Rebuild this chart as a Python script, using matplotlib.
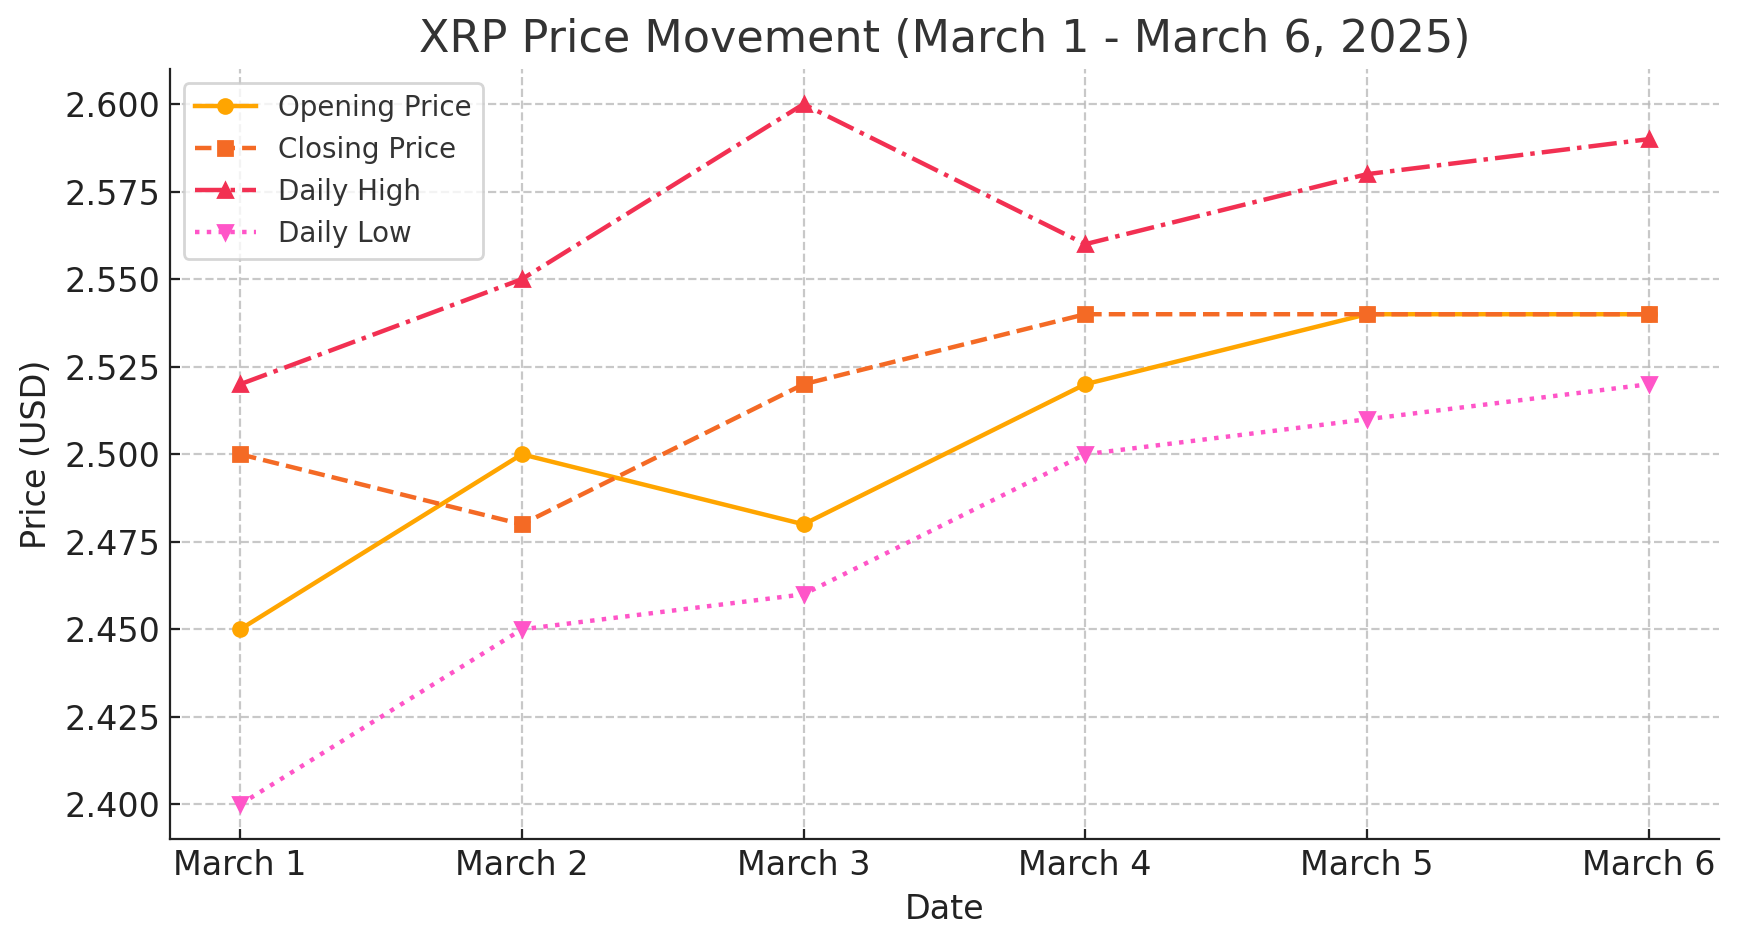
import matplotlib.pyplot as plt

dates = ['March 1', 'March 2', 'March 3', 'March 4', 'March 5', 'March 6']
opening = [2.45, 2.50, 2.48, 2.52, 2.54, 2.54]
closing = [2.50, 2.48, 2.52, 2.54, 2.54, 2.54]
high = [2.52, 2.55, 2.60, 2.56, 2.58, 2.59]
low = [2.40, 2.45, 2.46, 2.50, 2.51, 2.52]

text_col = '#222222'
plt.rcParams['text.color'] = text_col
plt.rcParams['axes.labelcolor'] = text_col
plt.rcParams['xtick.color'] = text_col
plt.rcParams['ytick.color'] = text_col
plt.rcParams['axes.edgecolor'] = text_col

fig, ax = plt.subplots(figsize=(17.39 / 2, 9.47 / 2), dpi=200)

ax.plot(dates, opening, marker='o', linestyle='-', color='#FFA500', linewidth=1.6, markersize=5, label='Opening Price')
ax.plot(dates, closing, marker='s', linestyle='--', color='#F46A25', linewidth=1.6, markersize=5, label='Closing Price')
ax.plot(dates, high, marker='^', linestyle='-.', color='#F23052', linewidth=1.6, markersize=5, label='Daily High')
ax.plot(dates, low, marker='v', linestyle=':', color='#FF55C8', linewidth=1.6, markersize=5, label='Daily Low')

ax.set_title('XRP Price Movement (March 1 - March 6, 2025)', fontsize=16, color='#333333')
ax.set_xlabel('Date', fontsize=12)
ax.set_ylabel('Price (USD)', fontsize=12)
ax.tick_params(labelsize=12, direction='in')
ax.yaxis.set_major_formatter(plt.FormatStrFormatter('%.3f'))

ax.grid(True, linestyle='--', color='#bbbbbb', alpha=0.8)
ax.spines['top'].set_visible(False)
ax.spines['right'].set_visible(False)
leg = ax.legend(fontsize=10, handlelength=2.2)
for t in leg.get_texts():
    t.set_color('#333333')

fig.subplots_adjust(left=0.0976, right=0.9885, top=0.927, bottom=0.1136)
plt.savefig('out.png', dpi=200)
